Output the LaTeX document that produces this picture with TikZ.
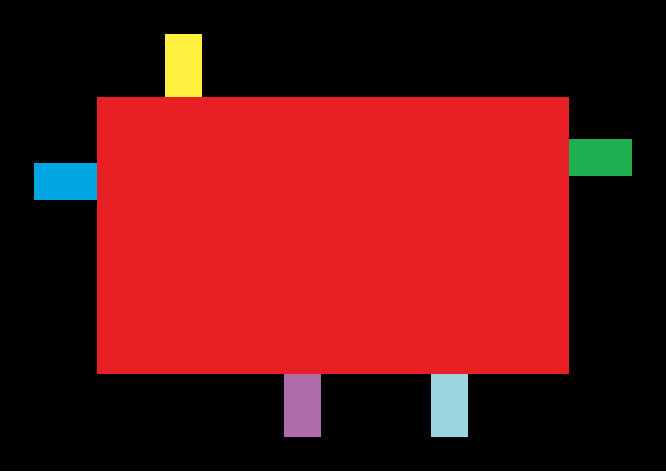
\documentclass[tikz,border=0pt]{standalone}
\usepackage{tikz}
\usetikzlibrary{positioning}
\usepackage{xcolor}
\definecolor{bdred}{RGB}{232,32,36}
\definecolor{bdyellow}{RGB}{255,240,64}
\definecolor{bdblue}{RGB}{0,166,226}
\definecolor{bdgreen}{RGB}{32,176,82}
\definecolor{bdpurple}{RGB}{174,108,170}
\definecolor{bdlightblue}{RGB}{154,212,222}
\tikzstyle{block} = [rectangle, inner sep=0pt, outer sep=0pt, draw=none]
\tikzstyle{vtab} = [block, minimum width=37pt, minimum height=63pt]
\tikzstyle{htab} = [block, minimum width=63pt, minimum height=37pt]

\begin{document}
\begin{tikzpicture}[x=1pt, y=-1pt]
% Background
\fill[black] (0,0) rectangle (666,471);
\useasboundingbox (0,0) rectangle (666,471);

% Central block
\node (board) [block, anchor=north west, minimum width=472pt, minimum height=277pt, fill=bdred] at (97,97) {};

% Tabs round the block
\node (top) [vtab, anchor=south west, fill=bdyellow] at (164.5,97) {};
\node (left) [htab, anchor=east, fill=bdblue] at (97,181) {};
\node (right) [htab, anchor=west, fill=bdgreen] at (569,157.5) {};
\node (bottomA) [vtab, anchor=north west, fill=bdpurple] at (283.5,374) {};
\node (bottomB) [vtab, anchor=north west, fill=bdlightblue] at (431,374) {};
\end{tikzpicture}
\end{document}
